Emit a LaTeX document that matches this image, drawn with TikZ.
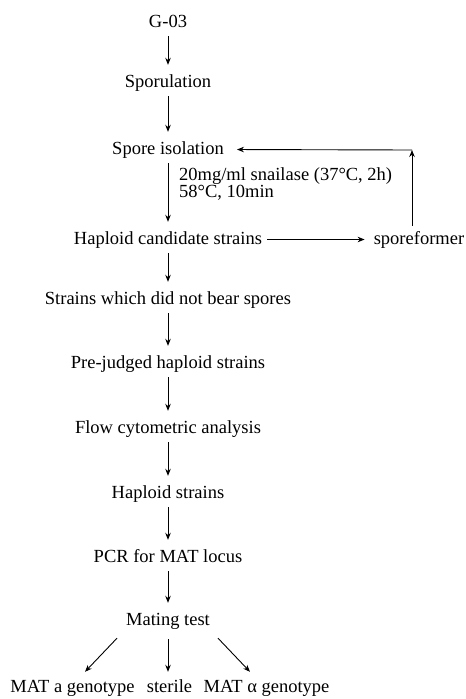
\documentclass[tikz,border=0pt]{standalone}
\usepackage{fontspec}
\setmainfont{Liberation Serif}
\usetikzlibrary{arrows.meta}
\begin{document}
\begin{tikzpicture}[x=1pt,y=-1pt,
  txt/.style={font=\fontsize{18.5}{22}\selectfont, text height=13pt, text depth=4pt, inner xsep=5pt, inner ysep=5pt, anchor=base},
  arr/.style={-{Stealth[length=7pt,width=5.5pt]}, line width=0.9pt, shorten >=4pt}]
\useasboundingbox (0,0) rectangle (466,699);
\node[txt] (g) at (168,27) {G-03};
\node[txt] (sp) at (168,87) {Sporulation};
\node[txt] (si) at (168,154) {Spore isolation};
\node[txt, anchor=base west, inner xsep=0pt] (c1) at (179,180) {20mg/ml snailase (37°C, 2h)};
\node[txt, anchor=base west, inner xsep=0pt] (c2) at (179,197) {58°C, 10min};
\node[txt] (hc) at (168,244) {Haploid candidate strains};
\node[txt] (sf) at (419,244) {sporeformer};
\node[txt] (nb) at (168,304) {Strains which did not bear spores};
\node[txt] (pj) at (168,368) {Pre-judged haploid strains};
\node[txt] (fc) at (168,433) {Flow cytometric analysis};
\node[txt] (hs) at (168,498) {Haploid strains};
\node[txt] (pcr) at (168,562) {PCR for MAT locus};
\node[txt] (mt) at (168,625) {Mating test};
\node[txt] (ma) at (72.5,692) {MAT a genotype};
\node[txt] (st) at (169.5,692) {sterile};
\node[txt] (mal) at (266.5,692) {MAT α genotype};
\coordinate (corner) at (412,150);
\draw[arr] (g) -- (sp);
\draw[arr] (sp) -- (si);
\draw[arr] (si) -- (hc);
\draw[arr] (hc) -- (nb);
\draw[arr] (nb) -- (pj);
\draw[arr] (pj) -- (fc);
\draw[arr] (fc) -- (hs);
\draw[arr] (hs) -- (pcr);
\draw[arr] (pcr) -- (mt);
\draw[arr] (hc) -- (sf);
\draw[arr, shorten >=0pt] (sf.north -| corner) -- (corner);
\draw[arr, shorten >=8pt] (corner) -- (si.east);
\draw[arr, shorten >=0pt] ([xshift=-51pt,yshift=-4pt]mt.south) -- ([xshift=12.5pt,yshift=2pt]ma.north);
\draw[arr, shorten <=5pt, shorten >=2pt] (mt.south) -- (mt.south |- st.north);
\draw[arr, shorten >=0pt] ([xshift=50pt,yshift=-4pt]mt.south) -- ([xshift=-16.5pt,yshift=2pt]mal.north);
\end{tikzpicture}
\end{document}
